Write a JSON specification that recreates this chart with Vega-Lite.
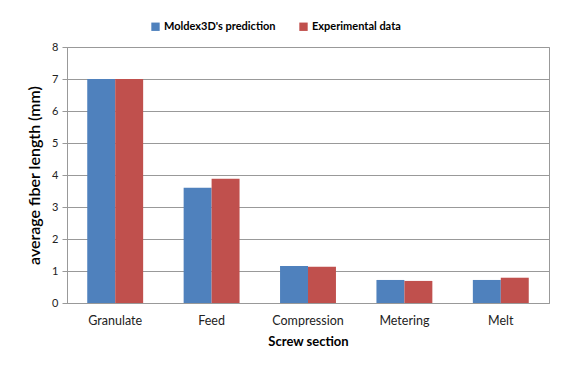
{
  "$schema": "https://vega.github.io/schema/vega-lite/v6.json",
  "width": 482,
  "height": 256,
  "autosize": "none",
  "padding": {"left": 67, "top": 47, "right": 14, "bottom": 70},
  "background": "white",
  "data": {"values": [
    {"section": "Granulate", "series": "Moldex3D's prediction", "value": 7.0},
    {"section": "Granulate", "series": "Experimental data", "value": 7.0},
    {"section": "Feed", "series": "Moldex3D's prediction", "value": 3.6},
    {"section": "Feed", "series": "Experimental data", "value": 3.88},
    {"section": "Compression", "series": "Moldex3D's prediction", "value": 1.16},
    {"section": "Compression", "series": "Experimental data", "value": 1.13},
    {"section": "Metering", "series": "Moldex3D's prediction", "value": 0.72},
    {"section": "Metering", "series": "Experimental data", "value": 0.69},
    {"section": "Melt", "series": "Moldex3D's prediction", "value": 0.72},
    {"section": "Melt", "series": "Experimental data", "value": 0.79}
  ]},
  "config": {
    "font": "Lato",
    "view": {"stroke": "#999999", "strokeWidth": 1}
  },
  "mark": {"type": "bar"},
  "encoding": {
    "x": {
      "field": "section", "type": "nominal", "sort": null,
      "scale": {"paddingInner": 0.42, "paddingOuter": 0.21},
      "axis": {
        "title": "Screw section", "titleFontSize": 13, "titleFontWeight": "bold", "titleColor": "#000",
        "labelAngle": 0, "labelFontSize": 12.5, "labelColor": "#222", "labelPadding": 11,
        "ticks": false, "domainColor": "#999999", "titlePadding": 9
      }
    },
    "xOffset": {"field": "series", "type": "nominal", "sort": ["Moldex3D's prediction", "Experimental data"]},
    "y": {
      "field": "value", "type": "quantitative",
      "scale": {"domain": [0, 8], "nice": false},
      "axis": {
        "title": "average fiber length (mm)", "titleFontSize": 16, "titleFontWeight": 600, "titleColor": "#000",
        "values": [0,1,2,3,4,5,6,7,8], "labelOverlap": false, "format": "d",
        "labelFontSize": 11, "labelColor": "#222", "labelPadding": 4,
        "tickSize": 5, "tickColor": "#999999", "domainColor": "#999999",
        "gridColor": "#999999", "gridOpacity": 1, "titlePadding": 9
      }
    },
    "color": {
      "field": "series", "type": "nominal",
      "sort": ["Moldex3D's prediction", "Experimental data"],
      "scale": {"domain": ["Moldex3D's prediction", "Experimental data"], "range": ["#4F81BD", "#C0504D"]},
      "legend": {
        "title": null, "orient": "none", "direction": "horizontal",
        "legendX": 83, "legendY": -26,
        "symbolType": "square", "symbolSize": 70, "symbolStrokeWidth": 0,
        "labelFontSize": 11, "labelFontWeight": "bold", "labelColor": "#000",
        "columnPadding": 22, "labelOffset": 3
      }
    }
  }
}
